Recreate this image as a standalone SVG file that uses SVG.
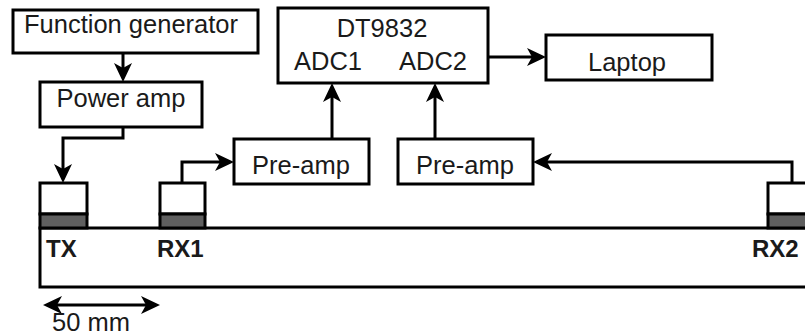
<svg xmlns="http://www.w3.org/2000/svg" width="805" height="336" viewBox="0 0 805 336">
<style>
.box{fill:#fff;stroke:#000;stroke-width:3}
.t{font-family:"Liberation Sans",Arial,sans-serif;font-size:25.5px;fill:#1a1a1a;text-anchor:middle}
.b{font-family:"Liberation Sans",Arial,sans-serif;font-size:24px;font-weight:bold;fill:#1a1a1a}
.c{fill:none;stroke:#000;stroke-width:3}
.g{fill:#5f5f5f;stroke:#000;stroke-width:3}
</style>
<defs>
<marker id="ah" markerUnits="userSpaceOnUse" markerWidth="20" markerHeight="20" viewBox="0 0 20 20" refX="15" refY="10" orient="auto" overflow="visible">
<path d="M0,1 L19,10 L0,19 L5,10 Z" fill="#000"/>
</marker>
<marker id="ahs" markerUnits="userSpaceOnUse" markerWidth="20" markerHeight="20" viewBox="0 0 20 20" refX="15" refY="10" orient="auto-start-reverse" overflow="visible">
<path d="M0,1 L19,10 L0,19 L5,10 Z" fill="#000"/>
</marker>
</defs>
<g id="plate">
<rect x="40" y="228" width="800" height="59" class="box"/>
<text x="46" y="257" class="b">TX</text>
<text x="157" y="257" class="b">RX1</text>
<text x="752" y="257" class="b">RX2</text>
</g>
<g id="tx">
<rect x="40" y="183" width="47" height="31" class="box"/>
<rect x="40" y="214" width="47" height="14" class="g"/>
</g>
<g id="rx1">
<rect x="160" y="183" width="45" height="31" class="box"/>
<rect x="160" y="214" width="45" height="14" class="g"/>
</g>
<g id="rx2">
<rect x="768" y="183" width="45" height="31" class="box"/>
<rect x="768" y="214" width="45" height="14" class="g"/>
</g>
<g id="funcgen">
<rect x="13" y="10" width="245" height="43" class="box"/>
<text x="131" y="33" class="t">Function generator</text>
</g>
<g id="poweramp">
<rect x="40" y="82" width="162" height="45" class="box"/>
<text x="121" y="107" class="t">Power amp</text>
</g>
<g id="dt9832">
<rect x="278" y="8" width="210" height="75" class="box"/>
<text x="382" y="37" class="t">DT9832</text>
<text x="328" y="70" class="t">ADC1</text>
<text x="433" y="70" class="t">ADC2</text>
</g>
<g id="laptop">
<rect x="546" y="35" width="166" height="45" class="box"/>
<text x="627" y="71" class="t">Laptop</text>
</g>
<g id="preamp1">
<rect x="234" y="139" width="135" height="45" class="box"/>
<text x="301" y="174" class="t">Pre-amp</text>
</g>
<g id="preamp2">
<rect x="398" y="139" width="135" height="45" class="box"/>
<text x="465" y="174" class="t">Pre-amp</text>
</g>
<g id="connectors">
<path d="M123,53 V78" class="c" marker-end="url(#ah)"/>
<path d="M123,127 V138 H63 V179" class="c" marker-end="url(#ah)"/>
<path d="M182,183 V162 H230" class="c" marker-end="url(#ah)"/>
<path d="M792,183 V162 H537" class="c" marker-end="url(#ah)"/>
<path d="M332,139 V87" class="c" marker-end="url(#ah)"/>
<path d="M435,139 V87" class="c" marker-end="url(#ah)"/>
<path d="M488,57 H542" class="c" marker-end="url(#ah)"/>
<path d="M47,305 H156" class="c" marker-start="url(#ahs)" marker-end="url(#ahs)"/>
</g>
<g id="dimension-label">
<text x="91" y="331" class="t">50 mm</text>
</g>
</svg>
